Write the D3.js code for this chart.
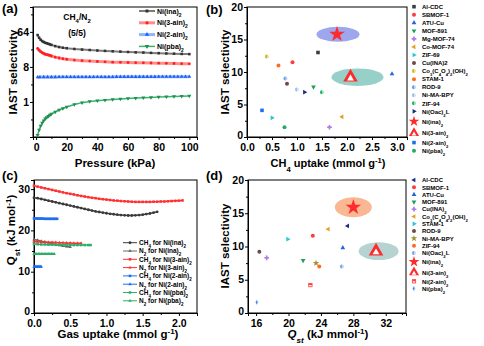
<!DOCTYPE html>
<html><head><meta charset="utf-8">
<script src="https://cdn.jsdelivr.net/npm/d3@7"></script>
<style>
body{margin:0;background:#fff}
text{font-family:"Liberation Sans",Arial,sans-serif;font-weight:bold;fill:#000}
</style>
</head><body>
<svg id="chart" width="484" height="346"></svg>
<script>
// ---------------- DATA ----------------
// (a) IAST selectivity vs pressure
const pressure = [1,2,3,4,5,6,7,8,9,10,12.5,15,17.5,20,25,30,35,40,45,50,55,60,65,70,75,80,85,90,95,100];
const selNiIna   = [53,45,40,37,35,33.5,32.5,31.5,30.5,29.5,27.5,26,25,24.3,23.2,22.4,21.8,21.2,20.7,20.2,19.8,19.4,19,18.7,18.4,18.1,17.8,17.5,17.3,17.1];
const selNi3ain  = [24,21.5,19.8,18.6,17.7,17,16.6,16.2,15.8,15.3,14.3,13.6,13,12.6,12,11.6,11.3,11,10.8,10.6,10.5,10.4,10.3,10.2,10.1,10,9.9,9.8,9.7,9.6];
const pressureB  = [1,2.5,5,7.5,10,12.5,15,17.5,20,22.5,25,27.5,30,32.5,35,37.5,40,42.5,45,47.5,50,52.5,55,57.5,60,62.5,65,67.5,70,72.5,75,77.5,80,82.5,85,87.5,90,92.5,95,97.5,100];
const selNi2ain  = [4.36,4.37,4.38,4.38,4.39,4.39,4.4,4.4,4.4,4.41,4.41,4.41,4.42,4.42,4.42,4.42,4.43,4.43,4.43,4.43,4.43,4.44,4.44,4.44,4.44,4.44,4.45,4.45,4.45,4.45,4.45,4.45,4.46,4.46,4.46,4.46,4.46,4.46,4.47,4.47,4.47];
const pressureG  = [1,2,3,4,5,6,7,8,9,10,12.5,15,17.5,20,25,30,35,40,45,50,55,60,65,70,75,80,85,90,95,100];
const selNipba   = [0.14,0.19,0.24,0.29,0.33,0.37,0.4,0.43,0.46,0.49,0.55,0.62,0.68,0.74,0.86,0.96,1.03,1.08,1.12,1.16,1.2,1.23,1.26,1.29,1.31,1.34,1.36,1.39,1.41,1.43];
const aNames = ["Ni(ina)_{2}","Ni(3-ain)_{2}","Ni(2-ain)_{2}","Ni(pba)_{2}"];
const aTicksY = [1,8,64];
const aTicksX = [0,20,40,60,80,100];

// (b) IAST selectivity vs CH4 uptake
const bNames = ["Al-CDC","SBMOF-1","ATU-Cu","MOF-891","Mg-MOF-74","Co-MOF-74","ZIF-69","Cu(INA)2","Co_{3}(C_{4}O_{4})_{2}(OH)_{2}","STAM-1","ROD-9","Ni-MA-BPY","ZIF-94","Ni(Oac)_{2}L","Ni(ina)_{2}","Ni(3-ain)_{2}","Ni(2-ain)_{2}","Ni(pba)_{2}"];
const bUptake = [1.42,0.91,2.9,1.33,1.65,1.9,0.5,0.8,0.4,0.63,0.77,1.0,1.5,1.15,1.8,2.07,0.3,0.75];
const bSel    = [13.0,11.5,9.7,7.7,1.5,3.1,2.95,8.2,12.4,11.0,9.0,7.3,6.9,6.9,15.8,9.2,4.1,1.5];
const bTicksX = [0,0.5,1,1.5,2,2.5,3];
const bTicksY = [0,5,10,15,20];

// (c) Qst vs gas uptake
const cX1 = [0,0.05,0.1,0.15,0.2,0.25,0.3,0.35,0.4,0.45,0.5,0.55,0.6,0.65,0.7,0.75,0.8,0.85,0.9,0.95,1.0,1.05,1.1,1.15,1.2,1.25,1.3,1.35,1.4,1.45,1.5,1.55,1.6,1.65,1.7];
const qCH4Ina = [27.9,27.8,27.6,27.4,27.2,27.0,26.8,26.6,26.4,26.2,26.0,25.8,25.6,25.4,25.2,25.0,24.8,24.6,24.45,24.3,24.15,24.0,23.9,23.8,23.7,23.65,23.6,23.6,23.65,23.7,23.8,23.95,24.1,24.3,24.5];
const cX2 = [0,0.05,0.1,0.15,0.2,0.25,0.3,0.35,0.4,0.45,0.5,0.55,0.6,0.65,0.7,0.75,0.8,0.85,0.9,0.95,1.0,1.05,1.1,1.15,1.2,1.25,1.3,1.35,1.4,1.45,1.5,1.55,1.6,1.65,1.7,1.75,1.8,1.85,1.9,1.95,2.0,2.05];
const qCH43ain = [30.8,30.6,30.4,30.2,30.0,29.8,29.6,29.4,29.2,29.0,28.85,28.7,28.5,28.35,28.2,28.05,27.9,27.8,27.65,27.55,27.45,27.35,27.25,27.2,27.1,27.05,27.0,26.95,26.9,26.9,26.9,26.9,26.9,26.95,26.95,27.0,27.0,27.05,27.1,27.15,27.2,27.25];
const cX3 = [0,0.02,0.04,0.06,0.08,0.1,0.12,0.14,0.16,0.18,0.2,0.22,0.24,0.26,0.28,0.3,0.32];
const qCH42ain = [22.9,22.9,22.9,22.85,22.85,22.85,22.85,22.8,22.8,22.8,22.8,22.8,22.8,22.8,22.8,22.8,22.8];
const cX4 = [0,0.05,0.1,0.15,0.2,0.25,0.3,0.35,0.4,0.45,0.5];
const qN2Ina = [17.8,17.6,17.4,17.2,17.0,16.8,16.6,16.4,16.2,16.1,16.0];
const cX5 = [0,0.05,0.1,0.15,0.2,0.25,0.3,0.35,0.4,0.45,0.5,0.55,0.6,0.65];
const qN23ain = [17.3,17.25,17.2,17.15,17.1,17.1,17.05,17.0,17.0,16.95,16.95,16.9,16.9,16.9];
const cX6 = [0,0.01,0.02,0.03,0.04,0.05,0.06,0.07,0.08,0.09,0.1];
const qN22ain = [11.2,11.2,11.2,11.2,11.2,11.2,11.2,11.2,11.2,11.2,11.2];
const cX7 = [0,0.05,0.1,0.15,0.2,0.25,0.3,0.35,0.4,0.45,0.5,0.55,0.6,0.65,0.7,0.75,0.78];
const qCH4pba = [16.7,16.65,16.6,16.6,16.55,16.55,16.5,16.5,16.5,16.5,16.45,16.45,16.45,16.45,16.45,16.45,16.45];
const cX8 = [0,0.02,0.04,0.06,0.08,0.1,0.12,0.14,0.16,0.18,0.2,0.22,0.24,0.26,0.28];
const qN2pba = [14.3,14.3,14.3,14.3,14.3,14.3,14.3,14.3,14.3,14.3,14.3,14.3,14.3,14.3,14.3];
const cNames = ["CH_{4} for Ni(ina)_{2}","N_{2} for Ni(ina)_{2}","CH_{4} for Ni(3-ain)_{2}","N_{2} for Ni(3-ain)_{2}","CH_{4} for Ni(2-ain)_{2}","N_{2} for Ni(2-ain)_{2}","CH_{4} for Ni(pba)_{2}","N_{2} for Ni(pba)_{2}"];
const cTicksX = [0,0.5,1,1.5,2];
const cTicksY = [0,10,20,30];

// (d) IAST selectivity vs Qst
const dNames = ["Al-CDC","SBMOF-1","ATU-Cu","MOF-891","Cu(INA)_{2}","Co_{3}(C_{4}O_{4})_{2}(OH)_{2}","STAM-1","ROD-9","Ni-MA-BPY","ZIF-94","Ni(Oac)_{2}L","Ni(ina)_{2}","Ni(3-ain)_{2}","Ni(2-ain)_{2}","Ni(pba)_{2}"];
const dQst = [27.3,23.0,26.7,21.8,17.3,24.9,19.9,16.4,23.4,23.8,26.6,28.0,30.8,22.7,16.1];
const dSel = [13.1,11.6,9.8,7.9,8.3,12.6,11.1,9.2,7.5,7.0,7.0,15.9,9.3,4.2,1.6];
const dTicksX = [16,20,24,28,32];
const dTicksY = [0,5,10,15,20];

// ---------------- STYLES ----------------
const bMark = ["square","circle","triU","triD","cross","triL","triR","circle","half","circle","half","half","half","triR","star","triHollow","square","circle"];
const bCol  = ["#3d3d3d","#ff3b3b","#2a62d8","#1f9e5a","#b07ee0","#e0a21e","#25c6d6","#6e4b4b","#c9bb1e","#ff6b22","#6e9fe6","#9cc0ec","#1fb865","#1c2a8a","#ff2a2a","#ff2a2a","#1a6ff0","#22aa66"];
const dMark = ["triL","circle","triU","triD","cross","triL","triR","circle","star","circle","half","star","triHollow","sqHalf","diaHalf"];
const dCol  = ["#1c2a8a","#ff3b3b","#2a62d8","#1f9e5a","#b07ee0","#e0a21e","#25c6d6","#6e4b4b","#a09030","#ff6b22","#7aa6e6","#ff2a2a","#ff2a2a","#ff4040","#2a7ae8"];

const svg = d3.select("#chart");

function rich(sel, str){
  const parts = str.split(/(_\{[^}]*\}|\^\{[^}]*\})/).filter(s=>s.length);
  parts.forEach(p=>{
    if(p.startsWith("_{")) sel.append("tspan").attr("baseline-shift","sub").attr("font-size","70%").text(p.slice(2,-1));
    else if(p.startsWith("^{")) sel.append("tspan").attr("baseline-shift","super").attr("font-size","70%").text(p.slice(2,-1));
    else sel.append("tspan").text(p);
  });
  return sel;
}

function marker(g, type, x, y, col, s){
  const r = s/2;
  const gg = g.append("g").attr("transform",`translate(${x},${y})`);
  const tri = (rot)=>gg.append("path").attr("d",d3.symbol(d3.symbolTriangle, s*s*0.55)()).attr("transform",`rotate(${rot})`).attr("fill",col);
  switch(type){
    case "square": gg.append("rect").attr("x",-r*0.85).attr("y",-r*0.85).attr("width",s*0.85).attr("height",s*0.85).attr("fill",col); break;
    case "circle": gg.append("circle").attr("r",r*0.95).attr("fill",col); break;
    case "triU": tri(0); break;
    case "triD": tri(180); break;
    case "triL": tri(-90); break;
    case "triR": tri(90); break;
    case "cross": gg.append("path").attr("d",d3.symbol(d3.symbolCross, s*s*0.7)()).attr("fill",col);
                  gg.append("path").attr("d",d3.symbol(d3.symbolDiamond, s*s*0.35)()).attr("fill",col); break;
    case "half":
      gg.append("circle").attr("r",r*0.95).attr("fill",d3.interpolateRgb(col,"#fff")(0.55));
      gg.append("path").attr("d",`M0,${-r*0.95}A${r*0.95},${r*0.95} 0 0,0 0,${r*0.95}Z`).attr("fill",col); break;
    case "star": gg.append("path").attr("d",d3.symbol(d3.symbolStar, s*s*0.45)()).attr("fill",col); break;
    case "triHollow":
      gg.append("path").attr("d",d3.symbol(d3.symbolTriangle, s*s*0.55)()).attr("fill",col);
      gg.append("path").attr("d",d3.symbol(d3.symbolTriangle, s*s*0.12)()).attr("transform","translate(0,1.2)").attr("fill","#fff"); break;
    case "sqHalf":
      gg.append("rect").attr("x",-r*0.8).attr("y",-r*0.8).attr("width",s*0.8).attr("height",s*0.8).attr("fill","#fff").attr("stroke",col).attr("stroke-width",0.8);
      gg.append("rect").attr("x",-r*0.8).attr("y",-r*0.8).attr("width",s*0.8).attr("height",s*0.4).attr("fill",col); break;
    case "diaHalf":
      gg.append("path").attr("d",d3.symbol(d3.symbolDiamond, s*s*0.5)()).attr("fill",d3.interpolateRgb(col,"#fff")(0.55));
      gg.append("path").attr("d",`M0,${-r*0.9}L${-r*0.55},0L0,${r*0.9}Z`).attr("fill",col); break;
  }
}

function frame(box){
  svg.append("rect").attr("x",box.x0).attr("y",box.y0).attr("width",box.x1-box.x0).attr("height",box.y1-box.y0)
    .attr("fill","none").attr("stroke","#000").attr("stroke-width",1);
}

function axes(box, x, y, xt, yt, xminor, yminor, xfmt, yfmt){
  const gx = svg.append("g").attr("transform",`translate(0,${box.y1})`)
    .call(d3.axisBottom(x).tickValues(xt).tickSize(3).tickFormat(xfmt));
  svg.append("g").attr("transform",`translate(0,${box.y1})`)
    .call(d3.axisBottom(x).tickValues(xminor).tickSize(2).tickFormat(""));
  const gy = svg.append("g").attr("transform",`translate(${box.x0},0)`)
    .call(d3.axisLeft(y).tickValues(yt).tickSize(3).tickFormat(yfmt));
  svg.append("g").attr("transform",`translate(${box.x0},0)`)
    .call(d3.axisLeft(y).tickValues(yminor).tickSize(2).tickFormat(""));
  svg.selectAll(".domain").attr("stroke","#000");
  gx.selectAll("text").attr("font-size",10.5).attr("dy","0.85em").attr("y",5);
  gy.selectAll("text").attr("font-size",10.5).attr("x",-4).attr("dy","0.3em");
  gy.selectAll(".tick").filter(d=>d===y.domain()[0]).select("text").attr("dy","0.1em");
  svg.selectAll(".tick line").attr("stroke","#000");
}

// ---------------- PANEL A ----------------
const A = {x0:33,x1:197,y0:7,y1:137};
const xa = d3.scaleLinear().domain([-2,105]).range([A.x0,A.x1]);
const ya = d3.scaleLog().base(8).domain([0.125,280]).range([A.y1,A.y0]);
axes(A, xa, ya, aTicksX, aTicksY, [10,30,50,70,90], [0.354,2.83,22.6,181], d=>d, d=>d);
frame(A);
const aSer = [
  {x:pressure, y:selNiIna, line:"#7d7d7d", lw:2, mk:"square", mc:"#333", ms:3},
  {x:pressure, y:selNi3ain, line:"#ff8c8c", lw:3, mk:"circle", mc:"#ff2020", ms:3},
  {x:pressureB, y:selNi2ain, line:"#8cb6ff", lw:3, mk:"triU", mc:"#1e5ef0", ms:3.4},
  {x:pressureG, y:selNipba, line:"#3cb371", lw:1.5, mk:"triD", mc:"#1f9050", ms:3.6}
];
const ga = svg.append("g");
aSer.forEach(s=>{
  const pts = s.x.map((v,i)=>[xa(v), ya(s.y[i])]);
  ga.append("path").attr("d",d3.line()(pts)).attr("fill","none").attr("stroke",s.line).attr("stroke-width",s.lw);
  pts.forEach(p=>marker(ga, s.mk, p[0], p[1], s.mc, s.ms));
});
aSer.forEach((s,i)=>{
  const yy = 11 + i*11.8;
  svg.append("line").attr("x1",139).attr("x2",155).attr("y1",yy).attr("y2",yy).attr("stroke",s.line).attr("stroke-width",s.lw);
  marker(svg, s.mk, 147, yy, s.mc, s.ms+0.5);
  rich(svg.append("text").attr("x",157).attr("y",yy+2.5).attr("font-size",7), aNames[i]);
});
rich(svg.append("text").attr("x",77).attr("y",20).attr("text-anchor","middle").attr("font-size",8.5), "CH_{4}/N_{2}");
svg.append("text").attr("x",77).attr("y",36).attr("text-anchor","middle").attr("font-size",8.5).text("(5/5)");
svg.append("text").attr("x",2).attr("y",13).attr("font-size",13).text("(a)");
svg.append("text").attr("transform","translate(17,72) rotate(-90)").attr("text-anchor","middle").attr("font-size",11.5).text("IAST selectivity");
svg.append("text").attr("x",115).attr("y",167).attr("text-anchor","middle").attr("font-size",11.5).text("Pressure (kPa)");

// ---------------- PANEL B ----------------
const B = {x0:247,x1:407,y0:7,y1:137};
const xb = d3.scaleLinear().domain([0,3.2]).range([B.x0,B.x1]);
const yb = d3.scaleLinear().domain([0,20]).range([B.y1,B.y0]);
axes(B, xb, yb, bTicksX, bTicksY, [0.25,0.75,1.25,1.75,2.25,2.75], [2.5,7.5,12.5,17.5], d3.format(".1f"), d=>d);
frame(B);
const gb = svg.append("g");
gb.append("ellipse").attr("cx",xb(bUptake[14])+1).attr("cy",yb(bSel[14])).attr("rx",21.5).attr("ry",7.5).attr("fill","#9ea6ee");
gb.append("ellipse").attr("cx",xb(bUptake[15])+7).attr("cy",yb(bSel[15])).attr("rx",26).attr("ry",8.8).attr("fill","#97d0c8");
bNames.forEach((n,i)=>{
  const big = bMark[i]==="star"||bMark[i]==="triHollow";
  marker(gb, bMark[i], xb(bUptake[i]), yb(bSel[i]), bCol[i], big?13:4.2);
});
let ly = 6.7;
bNames.forEach((n,i)=>{
  const big = bMark[i]==="star"||bMark[i]==="triHollow";
  if(big) ly += 2;
  marker(svg, bMark[i], 414, ly, bCol[i], big?9:4.2);
  rich(svg.append("text").attr("x",422).attr("y",ly+2.2).attr("font-size",6), n);
  ly += big ? 9.6 : 8.05;
});
svg.append("text").attr("x",206).attr("y",14).attr("font-size",13).text("(b)");
svg.append("text").attr("transform","translate(229,72) rotate(-90)").attr("text-anchor","middle").attr("font-size",11.5).text("IAST selectivity");
rich(svg.append("text").attr("x",328).attr("y",167).attr("text-anchor","middle").attr("font-size",11), "CH_{4} uptake (mmol g^{-1})");

// ---------------- PANEL C ----------------
const C = {x0:34,x1:197,y0:180,y1:313};
const xc = d3.scaleLinear().domain([0,2.25]).range([C.x0,C.x1]);
const yc = d3.scaleLinear().domain([0,32.2]).range([C.y1,C.y0]);
axes(C, xc, yc, cTicksX, cTicksY, [0.25,0.75,1.25,1.75], [5,15,25], d3.format(".1f"), d=>d);
frame(C);
const cSer = [
  {x:cX1, y:qCH4Ina, col:"#3a3a3a", mk:"circle"},
  {x:cX4, y:qN2Ina, col:"#6a6a6a", mk:"triU"},
  {x:cX2, y:qCH43ain, col:"#ff3030", mk:"square"},
  {x:cX5, y:qN23ain, col:"#ff3030", mk:"triU"},
  {x:cX3, y:qCH42ain, col:"#1e6ff0", mk:"square"},
  {x:cX6, y:qN22ain, col:"#1e6ff0", mk:"triU"},
  {x:cX7, y:qCH4pba, col:"#2eae6a", mk:"square"},
  {x:cX8, y:qN2pba, col:"#2eae6a", mk:"triU"}
];
const gc = svg.append("g");
cSer.forEach(s=>{
  const pts = s.x.map((v,i)=>[xc(v), yc(s.y[i])]);
  gc.append("path").attr("d",d3.line()(pts)).attr("fill","none").attr("stroke",s.col).attr("stroke-width",1.5);
  pts.forEach(p=>marker(gc, s.mk, p[0], p[1], s.col, 3));
});
cSer.forEach((s,i)=>{
  const yy = 242.7 + i*8.3;
  svg.append("line").attr("x1",123).attr("x2",137).attr("y1",yy).attr("y2",yy).attr("stroke",s.col).attr("stroke-width",1);
  marker(svg, s.mk, 130, yy, s.col, 3);
  rich(svg.append("text").attr("x",139).attr("y",yy+2.3).attr("font-size",6.5).attr("font-weight","normal"), cNames[i]);
});
svg.append("text").attr("x",2).attr("y",180).attr("font-size",13).text("(c)");
rich(svg.append("text").attr("transform","translate(15,230) rotate(-90)").attr("text-anchor","middle").attr("font-size",11.5), "Q_{st} (kJ mol^{-1})");
rich(svg.append("text").attr("x",118).attr("y",338).attr("text-anchor","middle").attr("font-size",11.5), "Gas uptake (mmol g^{-1})");

// ---------------- PANEL D ----------------
const D = {x0:248,x1:406,y0:180,y1:313};
const xd = d3.scaleLinear().domain([15,34.5]).range([D.x0,D.x1]);
const yd = d3.scaleLinear().domain([0,20]).range([D.y1,D.y0]);
axes(D, xd, yd, dTicksX, dTicksY, [18,22,26,30,34], [2.5,7.5,12.5,17.5], d=>d, d=>d);
frame(D);
const gd = svg.append("g");
gd.append("ellipse").attr("cx",xd(dQst[11])).attr("cy",yd(dSel[11])).attr("rx",18.5).attr("ry",10).attr("fill","#f9b893");
gd.append("ellipse").attr("cx",xd(dQst[12])+2.6).attr("cy",yd(dSel[12])).attr("rx",20).attr("ry",8.8).attr("fill","#b7d3d1");
dNames.forEach((n,i)=>{
  const big = i===11||i===12;
  marker(gd, dMark[i], xd(dQst[i]), yd(dSel[i]), dCol[i], big?13:(dMark[i]==="star"?5.5:4.2));
});
let ld = 180;
dNames.forEach((n,i)=>{
  const big = i===11||i===12;
  if(big) ld += 1.5;
  marker(svg, dMark[i], 414, ld, dCol[i], big?9:(dMark[i]==="star"?5.5:4.2));
  rich(svg.append("text").attr("x",422).attr("y",ld+2.2).attr("font-size",6), n);
  ld += big ? 9 : 7.3;
});
svg.append("text").attr("x",206).attr("y",180).attr("font-size",13).text("(d)");
svg.append("text").attr("transform","translate(229,246) rotate(-90)").attr("text-anchor","middle").attr("font-size",11.5).text("IAST selectivity");
const dl = svg.append("text").attr("x",328).attr("y",338).attr("text-anchor","middle").attr("font-size",11.5);
dl.append("tspan").attr("font-style","italic").text("Q");
dl.append("tspan").attr("font-style","italic").attr("baseline-shift","sub").attr("font-size","70%").text("st");
dl.append("tspan").text(" (kJ mmol");
dl.append("tspan").attr("baseline-shift","super").attr("font-size","70%").text("-1");
dl.append("tspan").text(")");
</script>
</body></html>
